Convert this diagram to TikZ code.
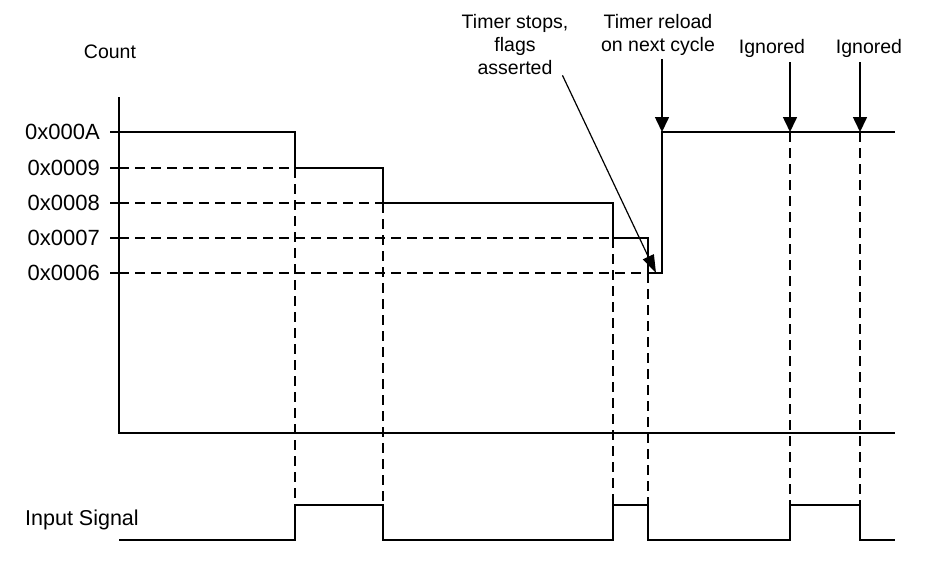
\documentclass[tikz,border=0pt]{standalone}
\usepackage{fontspec}
\setmainfont{Liberation Sans}
\usetikzlibrary{arrows.meta}
\tikzset{
    wave/.style={line width=1.6pt},
    guide/.style={line width=1.3pt, dash pattern=on 10pt off 6pt},
    marker/.style={line width=1.6pt, -{Triangle[width=14pt,length=15pt]}},
    lbl/.style={font=\fontsize{19.5}{23}\selectfont, inner sep=0pt, align=center},
    big/.style={lbl, font=\fontsize{22}{26}\selectfont},
}
\begin{document}
\begin{tikzpicture}[x=1pt,y=-1pt]
    \useasboundingbox (0,0) rectangle (925,571);
    \foreach \name/\y in {A/132, 9/168, 8/203, 7/238, 6/273}{
        \coordinate (l\name) at (119,\y);
        \node[big, anchor=east] (t\name) at (100,\y) {0x000\name};
        \draw[wave] (110,\y) -- (l\name);
    }
    \node[lbl] (count) at (110,52) {Count};
    \node[big, anchor=west, font=\fontsize{21.5}{26}\selectfont] (input) at (25,520) {Input Signal};
    \draw[wave] (119,97) -- (119,433) -- (895,433);
    % guides
    \draw[guide] (l9) -- (295,168);
    \draw[guide] (l8) -- (383,203);
    \draw[guide] (l7) -- (613,238);
    \draw[guide] (l6) -- (648,273);
    \foreach \x/\y in {295/168, 383/203, 613/238, 648/273, 790/132, 860/132}
        \draw[guide] (\x,\y) -- (\x,505);
    % count and input
    \draw[wave] (lA) -| (295,168) -| (383,203) -| (613,238) -| (648,273) -| (662,132) -- (895,132);
    \draw[wave] (119,540) -| (295,505) -| (383,540) -| (613,505) -| (648,540) -| (790,505) -| (860,540) -- (895,540);
    % notes
    \node[lbl] (stop) at (515,45) {Timer stops,\\flags\\asserted};
    \node[lbl] (reload) at (658,35) {Timer reload\\on next cycle};
    \node[lbl] (ign1) at (772,48) {Ignored};
    \node[lbl] (ign2) at (869,48) {Ignored};
    \coordinate (stoppt) at (656,273);
    \coordinate (reloadpt) at (662,132);
    \coordinate (ign1pt) at (790,132);
    \coordinate (ign2pt) at (860,132);
    \draw[marker, line width=1.2pt, -{Triangle[width=12pt,length=18pt]}] ([xshift=-6pt]stop.south east) -- (stoppt);
    \draw[marker, shorten <=3pt] (reload.south -| reloadpt) -- (reloadpt);
    \draw[marker, shorten <=5pt] (ign1.south -| ign1pt) -- (ign1pt);
    \draw[marker, shorten <=5pt] (ign2.south -| ign2pt) -- (ign2pt);
\end{tikzpicture}
\end{document}
